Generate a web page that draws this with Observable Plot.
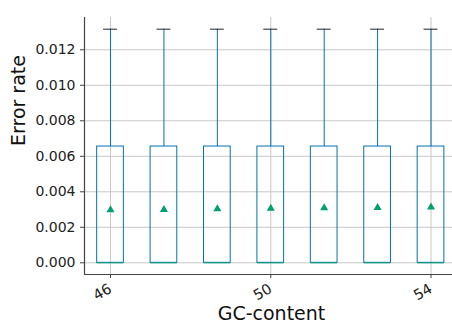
<!DOCTYPE html>
<html><head><meta charset="utf-8">
<script src="https://cdn.jsdelivr.net/npm/d3@7"></script>
<script src="https://cdn.jsdelivr.net/npm/@observablehq/plot@0.6"></script>
<style>body{margin:0;background:#fff;} svg{font-family:"DejaVu Sans",sans-serif;}</style>
</head><body><div id="chart"></div>
<script>
// Box positions (0..6) with labelled ticks every third box
const boxIndex = [0, 1, 2, 3, 4, 5, 6];
const q1 = [0, 0, 0, 0, 0, 0, 0];
const median = [0, 0, 0, 0, 0, 0, 0];
const q3 = [0.00655, 0.00655, 0.00655, 0.00655, 0.00655, 0.00655, 0.00655];
const whiskerHigh = [0.01316, 0.01316, 0.01316, 0.01316, 0.01316, 0.01316, 0.01316];
const means = [0.00298, 0.00300, 0.00303, 0.00307, 0.00309, 0.00311, 0.00314];
const xTickPositions = [0, 3, 6];
const xTickLabels = ["46", "50", "54"];
const yTicks = [0, 0.002, 0.004, 0.006, 0.008, 0.010, 0.012];

const rows = boxIndex.map((i, k) => ({i, q1: q1[k], med: median[k], q3: q3[k], hi: whiskerHigh[k], mean: means[k]}));
const blue = "#0173b2", green = "#029e73";
const xDom = [-0.487, 6.402], yDom = [-0.000658, 0.013818];

const chart = Plot.plot({
  width: 452, height: 324,
  marginLeft: 84, marginRight: 0, marginTop: 17, marginBottom: 50,
  style: {fontFamily: "DejaVu Sans", background: "#fff", color: "#222"},
  x: {domain: xDom, axis: null},
  y: {domain: yDom, axis: null},
  marks: [
    Plot.gridY(yTicks, {stroke: "#c8c8c8", strokeOpacity: 1}),
    Plot.gridX(xTickPositions, {stroke: "#c8c8c8", strokeOpacity: 1}),
    Plot.ruleX(rows, {x: "i", y1: "q3", y2: "hi", stroke: blue, strokeWidth: 1}),
    Plot.rect(rows, {x1: d => d.i - 0.25, x2: d => d.i + 0.25, y1: "q1", y2: "q3", fill: "none", stroke: blue, strokeWidth: 1}),
    Plot.ruleY(rows, {y: "hi", x1: d => d.i - 0.13, x2: d => d.i + 0.13, stroke: "#222", strokeWidth: 1}),
    Plot.ruleY(rows, {y: "med", x1: d => d.i - 0.25, x2: d => d.i + 0.25, stroke: green, strokeWidth: 1}),
    Plot.dot(rows, {x: "i", y: "mean", symbol: "triangle", fill: green, stroke: "none", r: 3}),
    Plot.ruleX([xDom[0]], {stroke: "#444", strokeWidth: 1.2}),
    Plot.ruleY([yDom[0]], {stroke: "#444", strokeWidth: 1.2}),
    Plot.axisY(yTicks, {tickFormat: d3.format(".3f"), fontSize: 14, tickSize: 4, tickPadding: 5, stroke: "#444", label: null}),
    Plot.axisX(xTickPositions, {tickFormat: (d, k) => xTickLabels[k], tickRotate: -30, textAnchor: "end", fontSize: 14.5, tickSize: 4, tickPadding: 9, stroke: "#444", label: null}),
    Plot.text(["GC-content"], {frameAnchor: "bottom", dx: 3, dy: 32, fontSize: 19, lineAnchor: "top", fill: "#111"}),
    Plot.text(["Error rate"], {frameAnchor: "left", rotate: -90, dx: -66, fontSize: 19, fill: "#111"})
  ]
});
document.getElementById("chart").append(chart);
</script>
</body></html>
